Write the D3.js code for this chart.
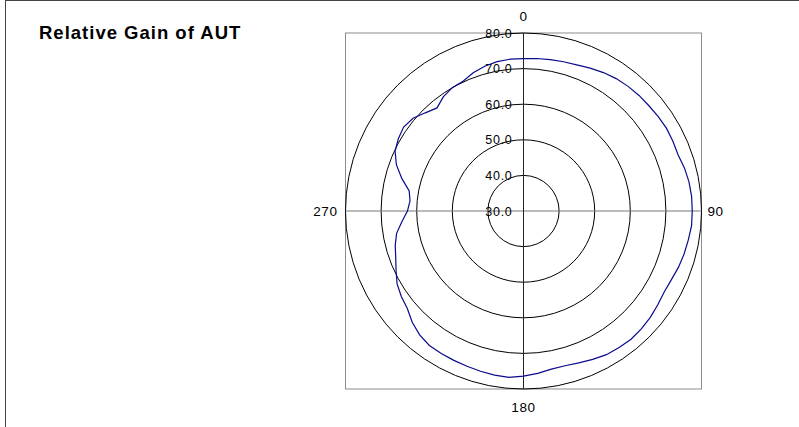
<!DOCTYPE html>
<html>
<head>
<meta charset="utf-8">
<script src="https://cdn.jsdelivr.net/npm/d3@7"></script>
<style>
  html, body { margin: 0; padding: 0; background: #fff; }
  svg { display: block; }
  text { font-family: "Liberation Sans", Arial, sans-serif; fill: #000; }
</style>
</head>
<body>
<svg id="chart" width="799" height="427"></svg>
<script>
// Measured gain (relative units) every 5 degrees, clockwise from 0
const angles = d3.range(0, 360, 5);
const gain = [
  72.8, 73.0, 73.2, 73.4, 73.7, 74.3, 74.9, 75.4, 75.7, 75.9, 76.0, 76.2,
  76.4, 76.3, 76.2, 76.8, 77.2, 77.4, 77.4, 77.4, 77.0, 76.7, 76.3, 75.8,
  75.6, 76.0, 76.5, 76.8, 77.0, 76.8, 76.6, 76.0, 75.4, 75.0, 75.1, 75.8,
  76.4, 76.9, 76.8, 76.6, 76.4, 76.3, 76.2, 76.1, 75.4, 74.2, 72.6, 71.9,
  71.0, 69.5, 68.2, 67.3, 66.2, 64.3, 62.6, 62.0, 62.6, 65.4, 68.0, 69.8,
  70.6, 71.1, 70.5, 69.0, 67.8, 69.2, 70.0, 70.2, 71.3, 72.1, 72.6, 72.8
];
// Radial grid rings and labels
const ringValues = [30, 40, 50, 60, 70, 80];
// Compass labels placed around the plot
const directionLabels = ["0", "90", "180", "270"];
const titleText = "Relative Gain of AUT";

const svg = d3.select("#chart");
const cx = 523.5, cy = 211, R = 178;

// chart-area frame
svg.append("rect")
  .attr("x", 5.5).attr("y", 0.5)
  .attr("width", 1000).attr("height", 1000)
  .attr("fill", "none").attr("stroke", "#444").attr("stroke-width", 1);

svg.append("text")
  .attr("x", 39).attr("y", 39)
  .attr("font-size", 18.5).attr("font-weight", "bold")
  .attr("letter-spacing", 1.0)
  .text(titleText);

const r = d3.scaleLinear().domain([30, 80]).range([0, R]);
const theta = d3.scaleLinear().domain([0, 360]).range([0, 2 * Math.PI]);

const g = svg.append("g").attr("transform", `translate(${cx},${cy})`);

// plot area box
g.append("rect")
  .attr("x", -R).attr("y", -R)
  .attr("width", 2 * R).attr("height", 2 * R)
  .attr("fill", "none").attr("stroke", "#8c8c8c").attr("stroke-width", 1);

// rings
g.selectAll("circle.ring")
  .data(ringValues.filter(v => v > 30))
  .join("circle")
  .attr("class", "ring")
  .attr("r", d => r(d))
  .attr("fill", "none").attr("stroke", "#000").attr("stroke-width", 1);

// axes
g.append("line")
  .attr("x1", -R).attr("x2", R).attr("y1", 0).attr("y2", 0)
  .attr("stroke", "#777").attr("stroke-width", 1);
g.append("line")
  .attr("x1", 0).attr("x2", 0).attr("y1", -R).attr("y2", R)
  .attr("stroke", "#222").attr("stroke-width", 1);

// ring labels along the vertical axis
g.selectAll("text.ringlab")
  .data(ringValues)
  .join("text")
  .attr("class", "ringlab")
  .attr("x", -11)
  .attr("y", d => -r(d) + 4.5)
  .attr("text-anchor", "end")
  .attr("font-size", 12.5)
  .attr("letter-spacing", 0.7)
  .text(d => d3.format(".1f")(d));

// gain trace
const line = d3.lineRadial()
  .angle((d, i) => theta(angles[i]))
  .radius(d => r(d))
  .curve(d3.curveLinearClosed);

g.append("path")
  .datum(gain)
  .attr("d", line)
  .attr("fill", "none")
  .attr("stroke", "#0a0a8c")
  .attr("stroke-width", 1.2);

// compass labels
const labelPos = {
  "0":   { x: 0, y: -R - 12, anchor: "middle" },
  "90":  { x: R + 6, y: 5, anchor: "start" },
  "180": { x: 0, y: R + 23, anchor: "middle" },
  "270": { x: -R - 8, y: 5, anchor: "end" }
};
g.selectAll("text.dir")
  .data(directionLabels)
  .join("text")
  .attr("class", "dir")
  .attr("x", d => labelPos[d].x)
  .attr("y", d => labelPos[d].y)
  .attr("text-anchor", d => labelPos[d].anchor)
  .attr("font-size", 13.5)
  .attr("letter-spacing", 0.6)
  .text(d => d);
</script>
</body>
</html>
